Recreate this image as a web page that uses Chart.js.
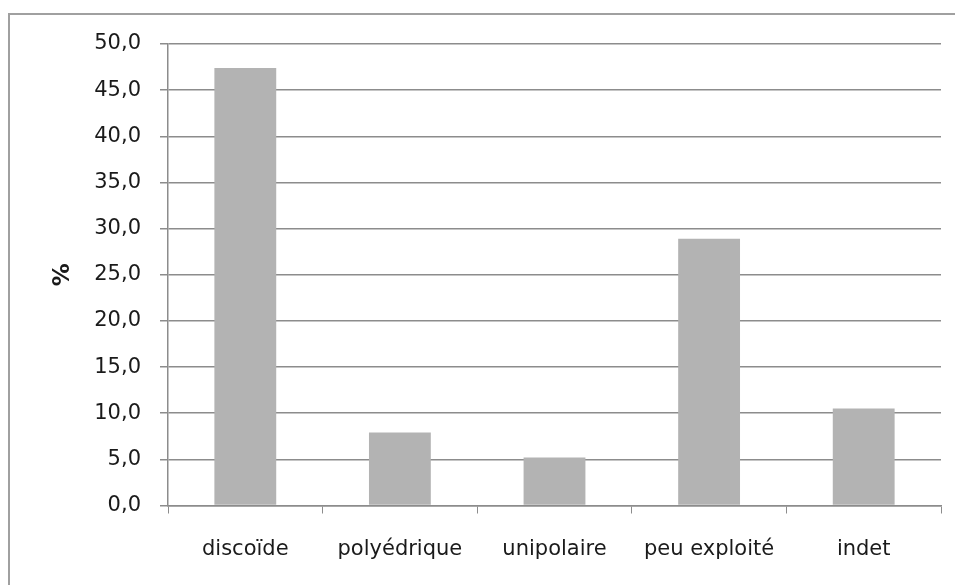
<!DOCTYPE html>
<html>
<head>
<meta charset="utf-8">
<script src="https://cdn.jsdelivr.net/npm/chart.js@4.4.1/dist/chart.umd.min.js"></script>
<style>
    html, body { margin: 0; padding: 0; background: #fff; overflow: hidden; }
    #wrap { width: 955px; height: 585px; }
    canvas { display: block; }
</style>
</head>
<body>
<div id="wrap"><canvas id="chart" width="955" height="585"></canvas></div>
<script>
(function () {
    "use strict";

    // Data
    const categories = ["discoïde", "polyédrique", "unipolaire", "peu exploité", "indet"];
    const percentValues = [47.4, 7.9, 5.2, 28.9, 10.5];
    const yTicks = [0, 5, 10, 15, 20, 25, 30, 35, 40, 45, 50];

    const textColor = "#1a1a1a";
    const gridColor = "#8c8c8c";
    const fontFamily = "'DejaVu Sans', Verdana, sans-serif";

    // outer frame (top and left edges only, the rest is cropped)
    const framePlugin = {
        id: "frame",
        beforeDraw(chart) {
            const ctx = chart.ctx;
            ctx.save();
            ctx.strokeStyle = "#a0a0a0";
            ctx.lineWidth = 2;
            ctx.beginPath();
            ctx.moveTo(9, 590);
            ctx.lineTo(9, 14);
            ctx.lineTo(960, 14);
            ctx.stroke();
            ctx.restore();
        },
    };

    const ctx = document.getElementById("chart").getContext("2d");
    new Chart(ctx, {
        type: "bar",
        data: {
            labels: categories,
            datasets: [
                {
                    label: "%",
                    data: percentValues,
                    backgroundColor: "#b3b3b3",
                    barPercentage: 0.4,
                    categoryPercentage: 1,
                },
            ],
        },
        options: {
            responsive: false,
            animation: false,
            layout: {
                padding: { left: 9, top: 44, right: 14, bottom: 0 },
            },
            plugins: {
                legend: { display: false },
                tooltip: { enabled: false },
            },
            scales: {
                x: {
                    afterFit: (scale) => {
                        scale.height = 79.5;
                    },
                    ticks: {
                        color: textColor,
                        font: { family: fontFamily, size: 21 },
                        padding: 23,
                        maxRotation: 0,
                    },
                    grid: {
                        display: true,
                        drawOnChartArea: false,
                        offset: true,
                        color: gridColor,
                        tickLength: 8,
                    },
                    border: { color: gridColor, width: 1.5 },
                },
                y: {
                    min: 0,
                    max: 50,
                    afterFit: (scale) => {
                        scale.width = 159;
                    },
                    afterBuildTicks: (scale) => {
                        scale.ticks = yTicks.map((v) => ({ value: v }));
                    },
                    ticks: {
                        color: textColor,
                        font: { family: fontFamily, size: 21 },
                        padding: 19,
                        callback: (value) => value.toFixed(1).replace(".", ","),
                    },
                    grid: {
                        color: gridColor,
                        lineWidth: 1.5,
                        tickLength: 8,
                    },
                    border: { color: gridColor, width: 1.5 },
                    title: {
                        display: true,
                        text: "%",
                        color: textColor,
                        font: { family: fontFamily, size: 23, weight: "bold" },
                        padding: { top: 40, bottom: 0 },
                    },
                },
            },
        },
        plugins: [framePlugin],
    });
})();
</script>
</body>
</html>
